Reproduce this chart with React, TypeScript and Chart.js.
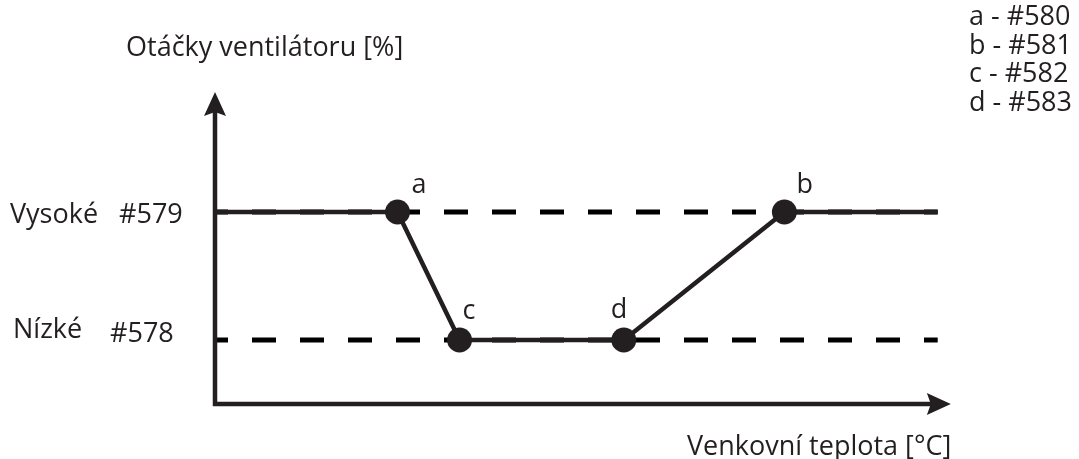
import React, { useEffect, useRef } from "react";
import { Chart, registerables } from "chart.js";

Chart.register(...registerables);

// Levels of fan speed (y) and break points of outdoor temperature (x), in chart units
const LEVEL_LOW = 20;
const LEVEL_HIGH = 60;
const pointNames = ["a", "c", "d", "b"];
const pointX = [25, 33.5, 56, 78];
const pointY = [LEVEL_HIGH, LEVEL_LOW, LEVEL_LOW, LEVEL_HIGH];
const LINE_START = 0;
const LINE_END = 99;
const AXIS_X_END = 100.8;
const AXIS_Y_END = 97.5;

const levelLabels = [
  { name: "Vysoké", code: "#579", y: LEVEL_HIGH },
  { name: "Nízké", code: "#578", y: LEVEL_LOW },
];
const legendLines = ["a - #580", "b - #581", "c - #582", "d - #583"];
const yTitle = "Otáčky ventilátoru [%]";
const xTitle = "Venkovní teplota [°C]";

const INK = "#231f20";
const FONT = "27px 'Open Sans'";

const labelOffsets: Record<string, [number, number]> = {
  a: [14, -19],
  c: [3, -21],
  d: [-13, -22],
  b: [12, -19],
};

const overlay = {
  id: "overlay",
  afterDatasetsDraw(chart: any) {
    const ctx = chart.ctx as CanvasRenderingContext2D;
    const xs = chart.scales.x;
    const ys = chart.scales.y;
    const x0 = xs.getPixelForValue(0);
    const y0 = ys.getPixelForValue(0);
    const yTop = ys.getPixelForValue(AXIS_Y_END);
    const xEnd = xs.getPixelForValue(AXIS_X_END);
    ctx.save();
    ctx.strokeStyle = INK;
    ctx.fillStyle = INK;
    ctx.lineWidth = 4.5;
    // vertical axis
    ctx.beginPath();
    ctx.moveTo(x0, y0 + 2);
    ctx.lineTo(x0, yTop + 18);
    ctx.stroke();
    ctx.beginPath();
    ctx.moveTo(x0, yTop);
    ctx.lineTo(x0 + 11, yTop + 24);
    ctx.lineTo(x0, yTop + 20);
    ctx.lineTo(x0 - 11, yTop + 24);
    ctx.closePath();
    ctx.fill();
    // horizontal axis
    ctx.beginPath();
    ctx.moveTo(x0 - 2, y0);
    ctx.lineTo(xEnd - 18, y0);
    ctx.stroke();
    ctx.beginPath();
    ctx.moveTo(xEnd, y0);
    ctx.lineTo(xEnd - 24, y0 + 11);
    ctx.lineTo(xEnd - 20, y0);
    ctx.lineTo(xEnd - 24, y0 - 11);
    ctx.closePath();
    ctx.fill();

    // texts
    ctx.font = FONT;
    ctx.textBaseline = "alphabetic";
    ctx.textAlign = "left";
    ctx.fillText(yTitle, 126, 56);
    ctx.fillText(xTitle, 687, 455);
    legendLines.forEach((t, i) => ctx.fillText(t, 969, 25 + i * 28.5));

    const hy = ys.getPixelForValue(levelLabels[0].y);
    ctx.fillText(levelLabels[0].name, 10, hy + 11);
    ctx.fillText(levelLabels[0].code, 119, hy + 11);
    const ly = ys.getPixelForValue(levelLabels[1].y);
    ctx.fillText(levelLabels[1].name, 13, ly - 2);
    ctx.fillText(levelLabels[1].code, 110, ly + 2);

    pointNames.forEach((n, i) => {
      const px = xs.getPixelForValue(pointX[i]);
      const py = ys.getPixelForValue(pointY[i]);
      const [dx, dy] = labelOffsets[n];
      ctx.fillText(n, px + dx, py + dy);
    });
    ctx.restore();
  },
};

export default function App() {
  const ref = useRef<HTMLCanvasElement | null>(null);
  useEffect(() => {
    if (!ref.current) return;
    const profile = [
      { x: LINE_START, y: LEVEL_HIGH },
      ...pointX.map((x, i) => ({ x, y: pointY[i] })),
      { x: LINE_END, y: LEVEL_HIGH },
    ];
    const radii = profile.map((_, i) => (i === 0 || i === profile.length - 1 ? 0 : 12.5));
    const chart = new Chart(ref.current, {
      type: "line",
      data: {
        datasets: [
          {
            data: profile,
            borderColor: INK,
            backgroundColor: INK,
            borderWidth: 4.5,
            pointRadius: radii,
            pointBackgroundColor: INK,
            pointBorderWidth: 0,
            tension: 0,
            order: 0,
          },
          {
            data: [
              { x: LINE_START, y: LEVEL_HIGH },
              { x: LINE_END, y: LEVEL_HIGH },
            ],
            borderColor: "#000",
            borderWidth: 5,
            borderDash: [24, 24],
            borderDashOffset: 11,
            pointRadius: 0,
            order: 1,
          },
          {
            data: [
              { x: LINE_START, y: LEVEL_LOW },
              { x: LINE_END, y: LEVEL_LOW },
            ],
            borderColor: "#000",
            borderWidth: 5,
            borderDash: [24, 24],
            borderDashOffset: 11,
            pointRadius: 0,
            order: 1,
          },
        ],
      },
      options: {
        animation: false,
        responsive: false,
        devicePixelRatio: 1,
        layout: { padding: { left: 215, right: 134, top: 84, bottom: 55 } },
        plugins: { legend: { display: false }, tooltip: { enabled: false } },
        events: [],
        scales: {
          x: { type: "linear", min: 0, max: 100, display: false },
          y: { type: "linear", min: 0, max: 100, display: false },
        },
      },
      plugins: [overlay],
    });
    return () => chart.destroy();
  }, []);
  return (
    <canvas
      ref={ref}
      width={1079}
      height={459}
      style={{ position: "fixed", left: 0, top: 0, width: 1079, height: 459, background: "#fff" }}
    />
  );
}
